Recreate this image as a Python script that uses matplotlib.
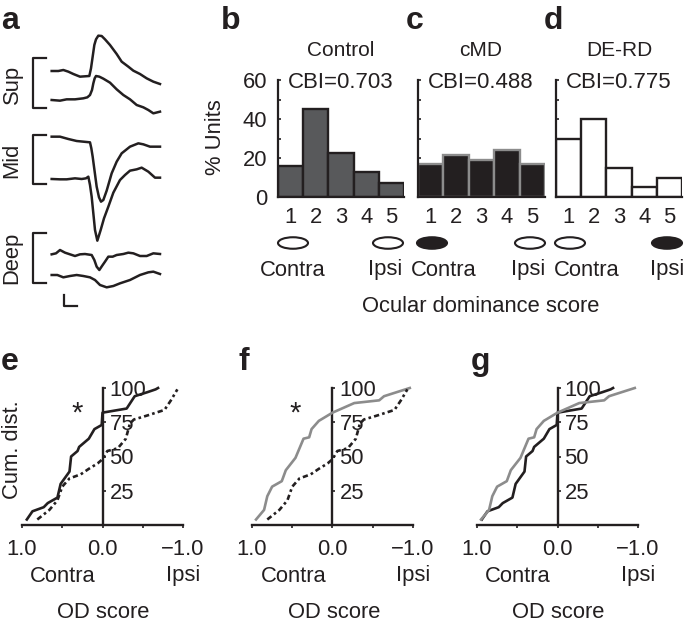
import matplotlib
matplotlib.use("Agg")
import matplotlib.pyplot as plt
from matplotlib.patches import Ellipse

plt.rcParams["font.family"] = ["Liberation Sans", "DejaVu Sans"]

W, H = 685, 626
INK = "#231f20"
GRAY = "#8c8c8c"
FS = 15.8

# panel a traces, arbitrary units (time, response)
sup_hi_t = [155, 175, 190, 205, 220, 240, 268, 273, 278, 283, 288, 295, 305, 315, 330, 350, 365, 385, 400, 420, 440, 460, 480]
sup_hi_v = [213, 213, 210, 215, 222, 230, 228, 205, 170, 135, 118, 107, 108, 118, 135, 162, 185, 200, 212, 222, 235, 245, 252]
sup_lo_t = [155, 180, 200, 225, 250, 262, 270, 276, 280, 284, 288, 298, 310, 330, 350, 370, 390, 410, 430, 445, 460, 480]
sup_lo_v = [300, 302, 298, 298, 295, 292, 285, 270, 250, 235, 228, 230, 236, 248, 268, 285, 298, 315, 322, 330, 340, 335]
mid_hi_t = [155, 180, 205, 230, 270, 274, 278, 284, 290, 297, 303, 310, 320, 335, 350, 365, 390, 415, 430, 450, 480]
mid_hi_v = [410, 410, 417, 423, 427, 445, 470, 515, 560, 592, 605, 600, 572, 520, 485, 460, 440, 430, 433, 440, 440]
mid_lo_t = [155, 180, 200, 225, 245, 258, 265, 270, 275, 280, 285, 292, 302, 312, 325, 340, 360, 375, 390, 410, 425, 445, 465, 480]
mid_lo_v = [537, 538, 538, 535, 537, 535, 530, 555, 590, 640, 690, 722, 690, 655, 620, 578, 540, 525, 512, 508, 503, 515, 533, 533]
deep_hi_t = [155, 168, 180, 195, 210, 225, 240, 255, 275, 283, 290, 298, 306, 315, 325, 338, 350, 370, 385, 400, 420, 440, 460, 480]
deep_hi_v = [763, 760, 750, 758, 763, 768, 763, 762, 765, 780, 800, 810, 798, 785, 770, 770, 765, 762, 758, 760, 768, 768, 760, 762]
deep_lo_t = [155, 172, 190, 210, 230, 250, 270, 285, 300, 320, 340, 360, 390, 420, 445, 460, 480]
deep_lo_v = [825, 825, 832, 828, 825, 828, 832, 840, 855, 862, 858, 850, 840, 825, 817, 815, 822]

# histograms
scores = [1, 2, 3, 4, 5]
control_pct = [16, 45, 22.5, 13, 7]
cmd_pct = [17, 21.5, 19, 24, 17]
derd_pct = [30, 40, 15, 5, 10]

# cumulative distributions
control_x = [0.94, 0.87, 0.73, 0.68, 0.56, 0.52, 0.41, 0.39, 0.31, 0.29, 0.17, 0.10, 0.01, 0, -0.30, -0.40, -0.56, -0.66, -0.69]
control_y = [4, 10, 13, 16, 20, 30, 39, 50, 54, 57, 63, 70, 73, 82, 85, 94, 97, 99, 100]
cmd_x = [0.81, 0.66, 0.56, 0.50, 0.41, 0.27, 0.17, 0.06, 0, -0.06, -0.19, -0.29, -0.34, -0.39, -0.56, -0.77, -0.85, -0.93]
cmd_y = [4, 11, 18, 28, 34, 37, 41, 45, 48, 54, 56, 63, 74, 77, 80, 84, 91, 99]
derd_x = [0.95, 0.85, 0.81, 0.75, 0.63, 0.58, 0.46, 0.36, 0.29, 0.26, 0.17, 0, -0.27, -0.58, -0.64, -0.96]
derd_y = [4, 11, 21, 28, 32, 40, 49, 63, 64, 70, 76, 82, 89, 91, 94, 100]

fig = plt.figure(figsize=(W / 100, H / 100), dpi=100)


def px_axes(left, top, right, bottom):
    return fig.add_axes([left / W, 1 - bottom / H, (right - left) / W, (bottom - top) / H])


# overlay in pixels for the free text and eye symbols
page = fig.add_axes([0, 0, 1, 1])
page.set_xlim(0, W)
page.set_ylim(H, 0)
page.axis("off")


def label(x, y, s, size=FS, **kw):
    kw.setdefault("ha", "center")
    kw.setdefault("va", "center")
    page.text(x, y, s, fontsize=size, color=INK, **kw)


for s, x, y in [("a", 1, 29), ("b", 221, 29), ("c", 406, 29), ("d", 544, 29),
                ("e", 1, 370), ("f", 239, 370), ("g", 471, 370)]:
    label(x, y, s, size=23, fontweight="bold", ha="left", va="baseline")

# a
ax = px_axes(0, 0, 200, 320)
ax.set_xlim(0, 600)
ax.set_ylim(960, 0)
ax.axis("off")
for t, v in [(sup_hi_t, sup_hi_v), (sup_lo_t, sup_lo_v), (mid_hi_t, mid_hi_v),
             (mid_lo_t, mid_lo_v), (deep_hi_t, deep_hi_v), (deep_lo_t, deep_lo_v)]:
    ax.plot(t, v, color=INK, lw=1.8, solid_joinstyle="round")
for top, bot in [(175, 325), (405, 553), (700, 850)]:
    ax.plot([137, 98, 98, 137], [top, top, bot, bot], color=INK, lw=1.6)
ax.plot([192, 192, 230], [885, 917, 917], color=INK, lw=1.6)
label(12, 84, "Sup", rotation=90)
label(12, 160, "Mid", rotation=90)
label(12, 258, "Deep", rotation=90)

# b, c, d
hist_panels = [
    (278, 404, control_pct, "#58595b", INK, "Control", "CBI=0.703", 341),
    (418, 545, cmd_pct, INK, GRAY, "cMD", "CBI=0.488", 481),
    (556, 682, derd_pct, "white", INK, "DE-RD", "CBI=0.775", 619),
]
for i, (l, r, vals, face, edge, title, cbi, cx) in enumerate(hist_panels):
    ax = px_axes(l, 80, r, 197)
    ax.patch.set_alpha(0)
    ax.bar(scores, vals, width=1, color=face, edgecolor=edge, lw=1.7, zorder=2)
    ax.set_xlim(0.5, 5.5)
    ax.set_ylim(0, 60)
    ax.spines[["top", "right"]].set_visible(False)
    ax.spines[["left", "bottom"]].set_linewidth(1.6)
    ax.spines[["left", "bottom"]].set_color(INK)
    ax.set_xticks(scores)
    ax.set_yticks([0, 20, 40, 60])
    ax.set_yticks([10, 30, 50], minor=True)
    ax.tick_params(axis="x", length=0, pad=7, labelsize=FS, labelcolor=INK)
    ax.tick_params(axis="y", which="both", length=2, width=1.2, direction="in", color=INK,
                   labelsize=FS, labelcolor=INK, pad=8, labelleft=(i == 0))
    label(cx, 51, title, size=15)
    label(cx, 83, cbi, size=16)
label(216, 137, "% Units", rotation=90)

eyes = [(293, False), (388, False), (432, True), (530, False), (570, False), (667, True)]
for x, filled in eyes:
    page.add_patch(Ellipse((x, 243), 30, 11.5, fc=INK if filled else "white", ec=INK, lw=1.5))
for x, s in [(293, "Contra"), (385, "Ipsi"), (444, "Contra"), (528, "Ipsi"), (587, "Contra"), (667, "Ipsi")]:
    label(x, 270, s)
label(481, 307, "Ocular dominance score")

# e, f, g
black = (control_x, control_y, INK, "-")
dotted = (cmd_x, cmd_y, INK, (0, (2, 1.2, 1, 1.2)))
grey = (derd_x, derd_y, GRAY, "-")
cum_panels = [
    (22, 102, 183, [black, dotted], True),
    (252, 333, 413, [grey, dotted], True),
    (477, 557, 638, [black, grey], False),
]
for l, mid, r, curves, star in cum_panels:
    ax = px_axes(l, 388, r, 525)
    ax.patch.set_alpha(0)
    for x, y, c, ls in curves:
        ax.plot(x, y, color=c, ls=ls, lw=1.9, clip_on=False, zorder=3)
    ax.set_xlim(1, -1)
    ax.set_ylim(0, 100)
    ax.spines[["top", "left"]].set_visible(False)
    ax.spines["right"].set_position(("data", 0))
    ax.spines[["right", "bottom"]].set_linewidth(1.7)
    ax.spines[["right", "bottom"]].set_color(INK)
    ax.yaxis.tick_right()
    ax.set_yticks([25, 50, 75, 100])
    ax.set_xticks([1, 0, -1], ["1.0", "0.0", "\u22121.0"])
    ax.set_xticks([0.5, -0.5], minor=True)
    ax.tick_params(axis="x", which="both", length=2, width=1.2, color=INK, labelsize=FS,
                   labelcolor=INK, pad=8)
    ax.tick_params(axis="y", length=2, width=1.2, color=INK, labelsize=FS, labelcolor=INK, pad=3)
    label(mid - 39, 576, "Contra")
    label(r, 576, "Ipsi")
    label(mid + 1, 613, "OD score")
    if star:
        label(mid - 25 if l == 22 else mid - 38, 414, "*", size=21)
label(13, 450, "Cum. dist.", rotation=90)

fig.savefig("out.png", dpi=100)
